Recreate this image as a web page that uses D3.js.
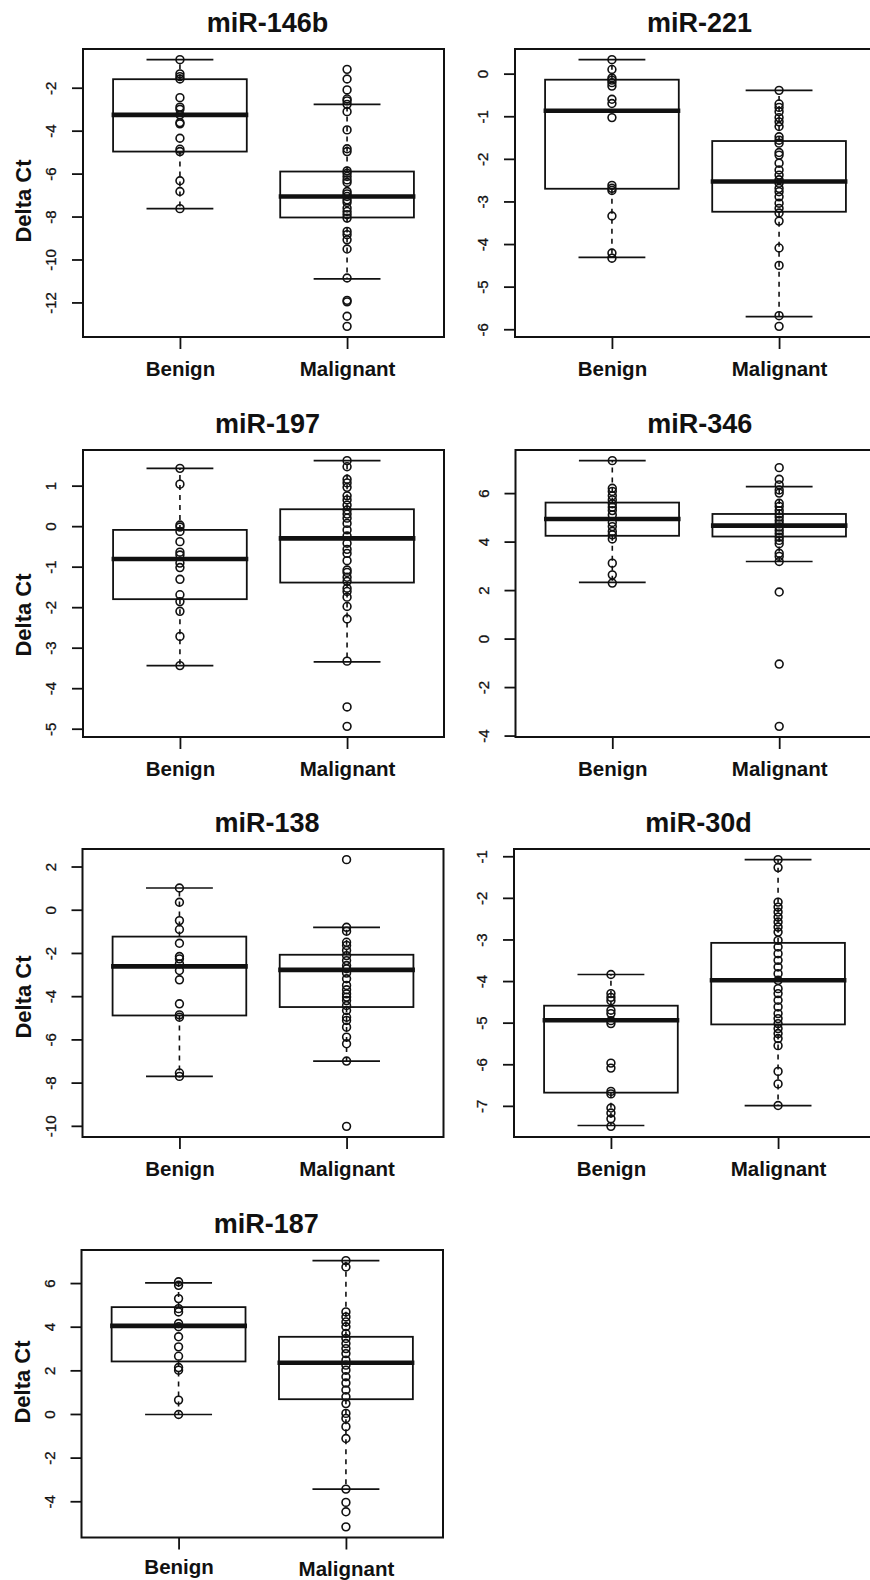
<!DOCTYPE html>
<html>
<head>
<meta charset="utf-8">
<script src="https://cdnjs.cloudflare.com/ajax/libs/d3/7.8.5/d3.min.js"></script>
<style>
  body { margin: 0; background: #fff; }
  svg { display: block; font-family: "Liberation Sans", Arial, sans-serif; }
</style>
</head>
<body>
<script>
// boxplots of Delta Ct, benign vs malignant, one panel per miRNA

var w = 870;
var h = 1580;

var panelNames = ["miR-146b", "miR-221", "miR-197", "miR-346", "miR-138", "miR-30d", "miR-187"];
var groups = ["Benign", "Malignant"];

// [lower whisker, Q1, median, Q3, upper whisker]
var benignStats = [
  [-7.61, -4.95, -3.24, -1.58, -0.67],
  [-4.30, -2.69, -0.86, -0.13, 0.34],
  [-3.43, -1.79, -0.80, -0.08, 1.44],
  [2.34, 4.26, 4.95, 5.63, 7.36],
  [-7.69, -4.87, -2.60, -1.22, 1.03],
  [-7.46, -6.67, -4.93, -4.58, -3.83],
  [0.00, 2.43, 4.06, 4.92, 6.03]
];
var malignantStats = [
  [-10.88, -8.02, -7.04, -5.88, -2.75],
  [-5.69, -3.23, -2.52, -1.57, -0.38],
  [-3.34, -1.38, -0.29, 0.43, 1.63],
  [3.20, 4.23, 4.68, 5.16, 6.29],
  [-6.98, -4.48, -2.76, -2.06, -0.79],
  [-6.98, -5.03, -3.97, -3.07, -1.07],
  [-3.42, 0.70, 2.37, 3.56, 7.05]
];

var benignPoints = [
  [-0.67, -1.33, -1.46, -1.57, -2.44, -2.88, -2.98, -3.24, -3.60, -3.66, -4.33, -4.84, -4.95, -6.31, -6.81, -7.61],
  [0.34, 0.11, -0.09, -0.14, -0.20, -0.28, -0.59, -0.69, -1.02, -2.61, -2.68, -2.73, -3.33, -4.20, -4.32],
  [1.44, 1.05, 0.04, -0.01, -0.12, -0.37, -0.63, -0.70, -0.90, -1.01, -1.30, -1.68, -1.85, -2.09, -2.71, -3.43],
  [7.36, 6.22, 6.09, 5.91, 5.74, 5.58, 5.44, 5.30, 5.12, 4.81, 4.64, 4.44, 4.30, 4.13, 3.13, 2.65, 2.31],
  [1.03, 0.37, -0.48, -0.89, -1.53, -2.14, -2.25, -2.48, -2.79, -3.22, -4.33, -4.84, -4.95, -7.53, -7.69],
  [-3.83, -4.29, -4.38, -4.46, -4.69, -4.77, -4.94, -5.01, -5.96, -6.08, -6.64, -6.70, -7.04, -7.16, -7.30, -7.48],
  [6.08, 5.92, 5.31, 4.85, 4.70, 4.17, 4.02, 3.56, 3.10, 2.67, 2.15, 2.03, 0.66, 0.00]
];
var malignantPoints = [
  [-1.12, -1.57, -2.08, -2.50, -2.59, -2.75, -3.09, -3.94, -4.82, -4.95, -5.85, -5.96, -6.11, -6.27, -6.39, -6.81,
   -6.92, -7.04, -7.20, -7.32, -7.58, -7.74, -7.89, -8.05, -8.67, -8.82, -9.06, -9.49, -10.84, -11.88, -11.95, -12.62, -13.09],
  [-0.38, -0.70, -0.78, -0.88, -1.02, -1.12, -1.23, -1.47, -1.55, -1.62, -1.84, -1.90, -2.09, -2.25, -2.37, -2.48,
   -2.56, -2.68, -2.76, -2.88, -3.03, -3.15, -3.26, -3.45, -4.08, -4.49, -5.67, -5.92],
  [1.63, 1.48, 1.17, 1.08, 0.97, 0.76, 0.66, 0.53, 0.41, 0.31, 0.21, 0.08, -0.08, -0.23, -0.41, -0.56, -0.66,
   -0.84, -1.07, -1.13, -1.25, -1.35, -1.52, -1.60, -1.74, -1.97, -2.28, -3.32, -4.45, -4.93],
  [7.07, 6.59, 6.36, 6.15, 6.02, 5.60, 5.47, 5.30, 5.16, 5.03, 4.89, 4.75, 4.62, 4.48, 4.34, 4.20, 4.07, 3.93,
   3.54, 3.41, 3.20, 1.94, -1.03, -3.60],
  [2.34, -0.79, -0.97, -1.48, -1.63, -1.86, -2.10, -2.33, -2.56, -2.71, -2.91, -3.17, -3.48, -3.68, -3.87, -4.02,
   -4.18, -4.41, -4.64, -4.95, -5.10, -5.41, -5.87, -6.18, -6.98, -10.00],
  [-1.07, -1.26, -2.09, -2.21, -2.33, -2.45, -2.57, -2.69, -2.81, -3.01, -3.17, -3.33, -3.49, -3.65, -3.81, -3.97,
   -4.17, -4.29, -4.45, -4.61, -4.77, -4.89, -5.01, -5.13, -5.25, -5.37, -5.54, -6.16, -6.46, -6.98],
  [7.05, 6.76, 4.70, 4.47, 4.24, 4.02, 3.71, 3.48, 3.25, 3.02, 2.79, 2.49, 2.26, 2.03, 1.73, 1.44, 1.12, 0.81,
   0.50, 0.05, -0.18, -0.56, -1.10, -3.42, -4.03, -4.46, -5.15]
];

var yTicks = [
  [-12, -10, -8, -6, -4, -2],
  [-6, -5, -4, -3, -2, -1, 0],
  [-5, -4, -3, -2, -1, 0, 1],
  [-4, -2, 0, 2, 4, 6],
  [-10, -8, -6, -4, -2, 0, 2],
  [-7, -6, -5, -4, -3, -2, -1],
  [-4, -2, 0, 2, 4, 6]
];

var yLabel = "Delta Ct";

// plot frames on the page (the right column runs past the edge, as in the original)
var frames = [
  { x0: 83,   x1: 444, y0: 49,   y1: 337,  ylab: 201 },
  { x0: 515,  x1: 876, y0: 49,   y1: 337 },
  { x0: 83,   x1: 444, y0: 450,  y1: 737,  ylab: 615 },
  { x0: 515.5,x1: 876, y0: 450,  y1: 737 },
  { x0: 82.5, x1: 443.5, y0: 849, y1: 1137, ylab: 997 },
  { x0: 514,  x1: 875, y0: 849,  y1: 1137 },
  { x0: 81.5, x1: 443, y0: 1250, y1: 1537.5, ylab: 1382, xlab: 36, malShift: 2 }
];

var ink = "#111";
var ptRadius = 3.9;

var svg = d3.select("body")
  .append("svg")
  .attr("width", w)
  .attr("height", h);

panelNames.forEach(function(name, p) {
  var f = frames[p];
  var stats = [benignStats[p], malignantStats[p]];
  var pts = [benignPoints[p], malignantPoints[p]];

  // R style range: data extent padded by 4 percent
  var all = pts[0].concat(pts[1], stats[0], stats[1]);
  var lo = d3.min(all), hi = d3.max(all);
  var pad = (hi - lo) * 0.04;

  var xScale = d3.scaleLinear()
    .domain([0.42, 2.58])
    .range([f.x0, f.x1]);

  var yScale = d3.scaleLinear()
    .domain([lo - pad, hi + pad])
    .range([f.y1, f.y0]);

  var g = svg.append("g");

  // title
  g.append("text")
    .attr("x", (f.x0 + f.x1) / 2 + 4)
    .attr("y", f.y0 - 17)
    .attr("text-anchor", "middle")
    .attr("font-size", "27px")
    .attr("font-weight", "bold")
    .attr("fill", ink)
    .text(name);

  // y axis
  var yAxis = d3.axisLeft(yScale)
    .tickValues(yTicks[p])
    .tickSize(11)
    .tickFormat(function(d) { return String(d); });

  var ay = g.append("g")
    .attr("transform", "translate(" + f.x0 + ",0)")
    .call(yAxis);
  ay.select(".domain").remove();
  ay.selectAll(".tick").attr("transform", null);
  ay.selectAll(".tick line")
    .attr("y1", function(d) { return yScale(d); })
    .attr("y2", function(d) { return yScale(d); })
    .attr("stroke", ink)
    .attr("stroke-width", 1.8);
  ay.selectAll("text")
    .attr("x", 0)
    .attr("y", 0)
    .attr("dy", null)
    .attr("transform", function(d) {
      return "translate(-27," + yScale(d) + ") rotate(-90)";
    })
    .attr("text-anchor", "middle")
    .attr("font-size", "15px")
    .attr("font-family", "'Liberation Sans', Arial, sans-serif")
    .attr("stroke", ink)
    .attr("stroke-width", 0.3)
    .attr("fill", ink);

  // x axis
  var xAxis = d3.axisBottom(xScale)
    .tickValues([1, 2])
    .tickSize(12)
    .tickFormat(function(d) { return groups[d - 1]; });

  var ax = g.append("g")
    .attr("transform", "translate(0," + f.y1 + ")")
    .call(xAxis);
  ax.select(".domain").remove();
  ax.selectAll("line").attr("stroke", ink).attr("stroke-width", 1.8);
  ax.selectAll("text")
    .attr("y", function(d) {
      return (f.xlab || 39) + (d == 2 && f.malShift ? f.malShift : 0);
    })
    .attr("dy", null)
    .attr("font-size", "20.5px")
    .attr("font-weight", "bold")
    .attr("font-family", "'Liberation Sans', Arial, sans-serif")
    .attr("fill", ink);

  if (f.ylab) {
    g.append("text")
      .attr("transform", "translate(" + (f.x0 - 52) + "," + f.ylab + ") rotate(-90)")
      .attr("text-anchor", "middle")
      .attr("font-size", "22px")
      .attr("font-weight", "bold")
      .attr("fill", ink)
      .text(yLabel);
  }

  // whiskers (dashed), caps, boxes, medians
  var boxes = g.selectAll("g.box")
    .data(stats)
    .enter()
    .append("g")
    .attr("class", "box");

  [[3, 4], [1, 0]].forEach(function(pair) {
    boxes.append("line")
      .attr("x1", function(d, i) { return xScale(i + 1); })
      .attr("x2", function(d, i) { return xScale(i + 1); })
      .attr("y1", function(d) { return yScale(d[pair[0]]); })
      .attr("y2", function(d) { return yScale(d[pair[1]]); })
      .attr("stroke", ink)
      .attr("stroke-width", 1.6)
      .attr("stroke-dasharray", "5,5");
  });

  [0, 4].forEach(function(k) {
    boxes.append("line")
      .attr("x1", function(d, i) { return xScale(i + 1 - 0.2); })
      .attr("x2", function(d, i) { return xScale(i + 1 + 0.2); })
      .attr("y1", function(d) { return yScale(d[k]); })
      .attr("y2", function(d) { return yScale(d[k]); })
      .attr("stroke", ink)
      .attr("stroke-width", 1.7);
  });

  boxes.append("rect")
    .attr("x", function(d, i) { return xScale(i + 1 - 0.4); })
    .attr("width", xScale(1.4) - xScale(0.6))
    .attr("y", function(d) { return yScale(d[3]); })
    .attr("height", function(d) { return yScale(d[1]) - yScale(d[3]); })
    .attr("fill", "none")
    .attr("stroke", ink)
    .attr("stroke-width", 1.8);

  boxes.append("line")
    .attr("x1", function(d, i) { return xScale(i + 1 - 0.4) - 1.5; })
    .attr("x2", function(d, i) { return xScale(i + 1 + 0.4) + 1.5; })
    .attr("y1", function(d) { return yScale(d[2]); })
    .attr("y2", function(d) { return yScale(d[2]); })
    .attr("stroke", ink)
    .attr("stroke-width", 4.6);

  // individual samples drawn over the boxes
  pts.forEach(function(vals, i) {
    g.selectAll("circle.g" + i)
      .data(vals)
      .enter()
      .append("circle")
      .attr("class", "g" + i)
      .attr("cx", xScale(i + 1))
      .attr("cy", function(d) { return yScale(d); })
      .attr("r", ptRadius)
      .attr("fill", "none")
      .attr("stroke", ink)
      .attr("stroke-width", 1.6);
  });

  // plot frame
  g.append("rect")
    .attr("x", f.x0)
    .attr("y", f.y0)
    .attr("width", f.x1 - f.x0)
    .attr("height", f.y1 - f.y0)
    .attr("fill", "none")
    .attr("stroke", ink)
    .attr("stroke-width", 2);
});
</script>
</body>
</html>
